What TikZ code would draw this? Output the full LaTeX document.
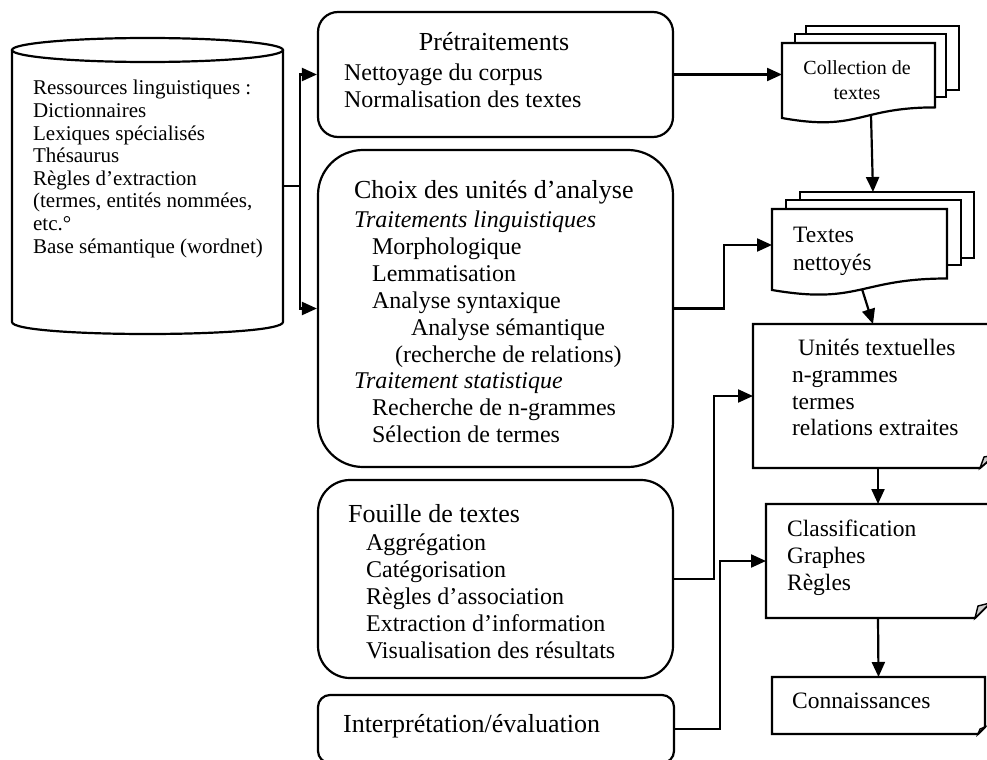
\documentclass[tikz,border=0pt]{standalone}
\usepackage{fontspec}
\setmainfont{Liberation Serif}
\usetikzlibrary{arrows.meta}
\newcommand\fbody{\fontsize{24bp}{27bp}\selectfont}
\newcommand\fhead{\fontsize{26bp}{29bp}\selectfont}
\newcommand\fcyl{\fontsize{21bp}{23bp}\selectfont}
\newcommand\fright{\fontsize{23.5bp}{27bp}\selectfont}
\newcommand\fcoll{\fontsize{20bp}{24bp}\selectfont}
\begin{document}
\begin{tikzpicture}[x=1bp,y=-1bp,line width=2.2bp,
  arr/.style={-{Triangle[length=15bp,width=13bp]}},
  rbox/.style={draw,fill=white,inner sep=0pt},
  area/.style={inner sep=0pt,outer sep=0pt},
  txt/.style={anchor=west,inner sep=0pt,text height=0.7em,text depth=0.22em,yshift=-5.5bp},
  ctxt/.style={anchor=center,inner sep=0pt,text height=0.7em,text depth=0.22em,yshift=-5.5bp},
  fold/.style={draw,fill=gray!40,line width=1.4bp},
]
\useasboundingbox (0,0) rectangle (987,760);
\clip (0,0) rectangle (987,760);

% ---------- cylinder ----------
\node[area,minimum width=271bp,minimum height=296bp] (cyl) at (147.5,186) {};
\draw[fill=white] (12,50) -- (12,322) .. controls (12,338) and (283,338) .. (283,322) -- (283,50);
\draw (147.5,50) ellipse [x radius=135.5,y radius=12];

% ---------- middle column ----------
\node[rbox,rounded corners=20bp,minimum width=355bp,minimum height=125bp] (pre) at (495.5,74.5) {};
\node[rbox,rounded corners=45bp,minimum width=355bp,minimum height=317bp] (choix) at (495.5,308.5) {};
\node[rbox,rounded corners=32bp,minimum width=355bp,minimum height=198bp] (fouille) at (495.5,579) {};
\node[rbox,rounded corners=12bp,minimum width=356bp,minimum height=68bp] (interp) at (496,729) {};

% ---------- right column: multi-documents ----------
\draw[fill=white] (806,26) rectangle (959,90);
\draw[fill=white] (795,34) rectangle (946,97);
\draw[fill=white] (782,43) -- (935,43) -- (935,107.4) .. controls (858.5,107.4) and (858.5,131.9) .. (782,118) -- cycle;
\node[area,minimum width=153bp,minimum height=74bp] (col) at (858.5,80) {};

\draw[fill=white] (800,192) rectangle (974,258);
\draw[fill=white] (786,200) rectangle (961,265);
\draw[fill=white] (772,209) -- (947,209) -- (947,278.5) .. controls (859.5,278.5) and (859.5,305) .. (772,290) -- cycle;
\node[area,minimum width=175bp,minimum height=72bp] (tn) at (859.5,245) {};

% ---------- right column: folded boxes ----------
\draw[fill=white] (753,324) -- (995,324) -- (995,455) -- (980,468) -- (753,468) -- cycle;
\draw[fold] (980,468) -- (984,457) -- (995,455) -- cycle;
\node[area,minimum width=240bp,minimum height=144bp] (unit) at (873,396) {};

\draw[fill=white] (766,504) -- (990,504) -- (990,603) -- (975,618) -- (766,618) -- cycle;
\draw[fold] (975,618) -- (978,606) -- (990,603) -- cycle;
\node[area,minimum width=224bp,minimum height=114bp] (clas) at (878,561) {};

\draw[fill=white] (772,677) -- (985,677) -- (985,727) -- (978,734) -- (772,734) -- cycle;
\draw[fold] (978,734) -- (980,729) -- (985,727) -- cycle;
\node[area,minimum width=213bp,minimum height=57bp] (conn) at (878.5,705.5) {};

% ---------- connectors ----------
\coordinate (split) at (300,186);
\draw (cyl.east) -- (split);
\draw[arr] (split) |- (pre.west);
\draw[arr] (split) |- (choix.west);
\draw[arr] (pre.east) -- (pre.east -| col.west);
\draw[arr] (choix.east) -- ++(50,0) |- (tn.west);
\draw[arr] (fouille.east) -- ++(40,0) |- (unit.west);
\draw[arr] (interp.east) -- ++(45,0) |- (clas.west);
\coordinate (colb) at (871,115);
\coordinate (tntop) at (873,192);
\draw[arr] (colb) -- (tntop);
\coordinate (tnb) at (862,289);
\draw[arr] (tnb) -- (unit.north);
\draw[arr] (clas.north |- unit.south) -- (clas.north);
\draw[arr] (clas.south) -- (conn.north);

% ---------- texts ----------
\begin{scope}[every node/.append style={font=\fcyl}]
\node[txt] (c1) at (32,87) {Ressources linguistiques :};
\node[txt] (c2) at (32,109.6) {Dictionnaires};
\node[txt] (c3) at (32,132.2) {Lexiques spécialisés};
\node[txt] (c4) at (32,154.8) {Thésaurus};
\node[txt] (c5) at (32,177.4) {Règles d’extraction};
\node[txt] (c6) at (32,200) {(termes, entités nommées,};
\node[txt] (c7) at (32,222.6) {etc.°};
\node[txt] (c8) at (32,245.2) {Base sémantique (wordnet)};
\end{scope}

\node[ctxt,font=\fhead] (p1) at (494,43) {Prétraitements};
\node[txt,font=\fbody] (p2) at (343,73) {Nettoyage du corpus};
\node[txt,font=\fbody] (p3) at (343,100) {Normalisation des textes};

\node[txt,font=\fhead] (h1) at (353,191) {Choix des unités d’analyse};
\begin{scope}[every node/.append style={font=\fbody}]
\node[txt] (h2) at (353,220) {\itshape Traitements linguistiques};
\node[txt] (h3) at (371,247) {Morphologique};
\node[txt] (h4) at (371,274) {Lemmatisation};
\node[txt] (h5) at (371,301) {Analyse syntaxique};
\node[txt] (h6) at (410,328) {Analyse sémantique};
\node[txt] (h7) at (394,355) {(recherche de relations)};
\node[txt] (h8) at (353,381) {\itshape Traitement statistique};
\node[txt] (h9) at (371,408) {Recherche de n-grammes};
\node[txt] (h10) at (371,435) {Sélection de termes};
\end{scope}

\node[txt,font=\fhead] (f1) at (347,515) {Fouille de textes};
\begin{scope}[every node/.append style={font=\fbody}]
\node[txt] (f2) at (365,543) {Aggrégation};
\node[txt] (f3) at (365,570) {Catégorisation};
\node[txt] (f4) at (365,597) {Règles d’association};
\node[txt] (f5) at (365,624) {Extraction d’information};
\node[txt] (f6) at (365,651) {Visualisation des résultats};
\end{scope}

\node[txt,font=\fhead] (i1) at (342,725) {Interprétation/évaluation};

\node[ctxt,font=\fcoll] (k1) at (857,67) {Collection de};
\node[ctxt,font=\fcoll] (k2) at (857,92) {textes};

\begin{scope}[every node/.append style={font=\fright}]
\node[txt] (n1) at (792,235) {Textes};
\node[txt] (n2) at (792,263) {nettoyés};
\node[txt] (u1) at (797,348) {Unités textuelles};
\node[txt] (u2) at (791,375) {n-grammes};
\node[txt] (u3) at (791,402) {termes};
\node[txt] (u4) at (791,428) {relations extraites};
\node[txt] (s1) at (786,529) {Classification};
\node[txt] (s2) at (786,556) {Graphes};
\node[txt] (s3) at (786,583) {Règles};
\node[txt] (m1) at (791,701) {Connaissances};
\end{scope}
\end{tikzpicture}
\end{document}
